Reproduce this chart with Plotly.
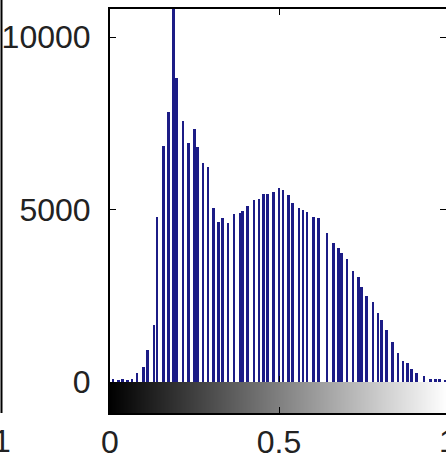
import numpy as np
import plotly.graph_objects as go

# intensity bin centres (0..1) and pixel counts
intensity = [0.009, 0.024, 0.038, 0.053, 0.065, 0.080, 0.098, 0.112, 0.130, 0.139,
             0.157, 0.172, 0.189, 0.198, 0.216, 0.231, 0.249, 0.260, 0.275, 0.290,
             0.305, 0.320, 0.334, 0.349, 0.367, 0.385, 0.393, 0.408, 0.426, 0.441,
             0.453, 0.467, 0.485, 0.500, 0.512, 0.527, 0.541, 0.559, 0.571, 0.583,
             0.601, 0.618, 0.642, 0.660, 0.675, 0.686, 0.701, 0.719, 0.734, 0.743,
             0.760, 0.778, 0.793, 0.802, 0.817, 0.837, 0.852, 0.867, 0.879, 0.893,
             0.908, 0.929, 0.947, 0.962, 0.976, 0.991]
counts = [90, 70, 80, 70, 100, 260, 435, 930, 1650, 4780,
          6840, 7830, 12000, 8810, 7570, 6930, 7330, 6810, 6350, 6240,
          5050, 4640, 4740, 4610, 4870, 4900, 4960, 5100, 5280, 5310,
          5450, 5450, 5510, 5630, 5580, 5420, 5190, 5050, 4990, 4930,
          4790, 4760, 4320, 4030, 3890, 3740, 3570, 3220, 3050, 2760,
          2490, 2320, 2000, 1800, 1510, 1160, 840, 610, 550, 380,
          260, 175, 90, 80, 80, 70]

y_ticks = [0, 5000, 10000]
y_labels = ["0", "5000", "10000"]
x_ticks = [0, 0.5, 1]
x_labels = ["0", "0.5", "1"]

gray_levels = np.linspace(0, 1, 256)

FONT = dict(family="Liberation Sans, Arial, sans-serif", size=32, color="#222222")
W, H = 446, 462
L, T, B = 110, 9, 49
plot_h = H - T - B
split = (413 - 382) / plot_h

fig = go.Figure()
fig.add_trace(go.Bar(x=intensity, y=counts, width=0.0085,
                     marker=dict(color="#1c1c86", line=dict(width=0)),
                     xaxis="x", yaxis="y", showlegend=False))
fig.add_trace(go.Heatmap(x=gray_levels, y=[0.5], z=[gray_levels],
                         colorscale=[[0, "black"], [1, "white"]],
                         showscale=False, xaxis="x2", yaxis="y2", hoverinfo="skip"))

xr = [0, (W - L) / 338]
common = dict(showgrid=False, zeroline=False, automargin=False)
fig.update_layout(
    width=W, height=H,
    margin=dict(l=L, r=0, t=T, b=B, autoexpand=False),
    paper_bgcolor="white", plot_bgcolor="white",
    bargap=0,
    xaxis=dict(domain=[0, 1], anchor="y", range=xr, showticklabels=False,
               tickvals=x_ticks, ticks="inside", ticklen=6, tickcolor="black",
               showline=True, linecolor="black", linewidth=2, mirror="allticks",
               **common),
    yaxis=dict(domain=[split, 1], anchor="x", range=[0, 10812],
               tickvals=y_ticks, ticktext=y_labels, tickfont=FONT,
               ticks="inside", ticklen=6, tickcolor="black",
               showline=True, linecolor="black", linewidth=2, mirror="allticks",
               ticklabelstandoff=11, **common),
    xaxis2=dict(domain=[0, 1], anchor="y2", range=xr,
                tickvals=x_ticks, ticktext=x_labels, tickfont=FONT,
                ticks="inside", ticklen=6, tickcolor="black",
                showline=True, linecolor="black", linewidth=2,
                ticklabelstandoff=0, **common),
    yaxis2=dict(domain=[0, split], anchor="x2", range=[0, 1],
                showticklabels=False, ticks="",
                showline=True, linecolor="black", linewidth=2, **common),
)

# fragment of the neighbouring subplot at the left edge
px = lambda p: (p - L) / (W - L)
lab_y = -(441 - (H - B)) / plot_h
fig.add_shape(type="line", xref="paper", yref="paper",
              x0=px(1.5), x1=px(1.5), y0=0, y1=(H - B) / plot_h,
              line=dict(color="black", width=2))
fig.add_annotation(xref="paper", yref="paper", x=px(13), y=lab_y,
                   text="1", showarrow=False, xanchor="right", yanchor="middle",
                   font=FONT)
fig.add_annotation(xref="paper", yref="paper", x=px(448), y=lab_y,
                   text="1", showarrow=False, xanchor="center", yanchor="middle",
                   font=FONT)

fig.write_html("out.html", config={"displayModeBar": False},
               post_script="document.body.style.margin='0';document.body.style.overflow='hidden';")
